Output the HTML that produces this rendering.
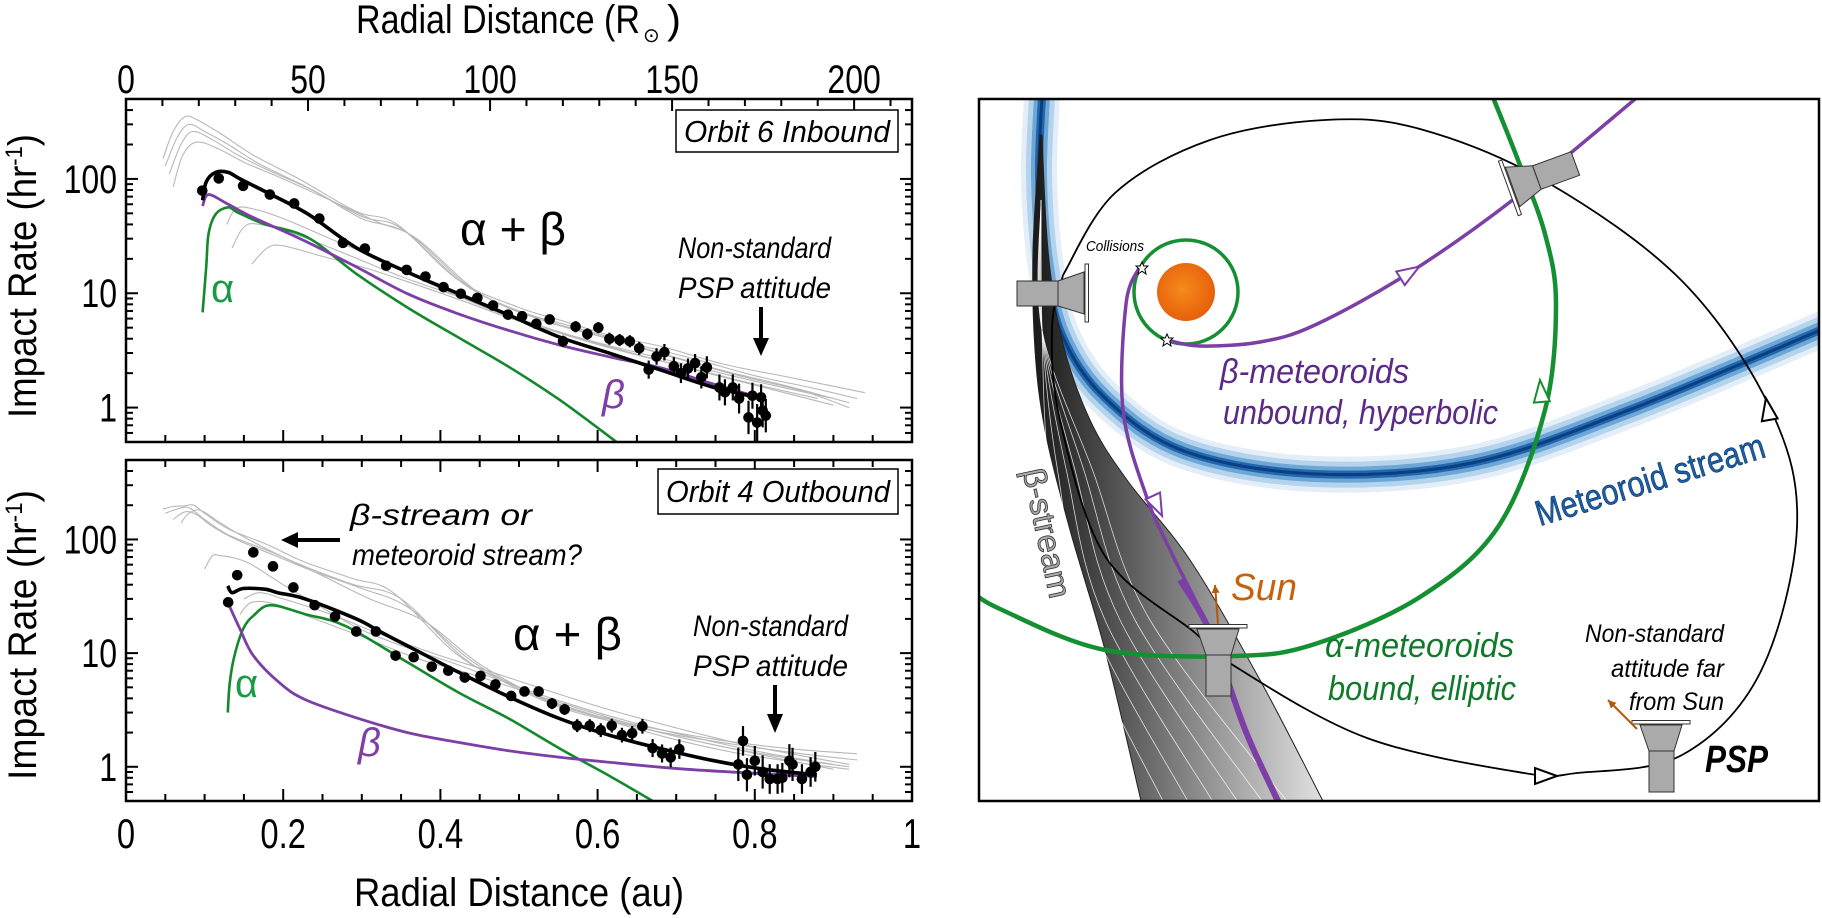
<!DOCTYPE html>
<html><head><meta charset="utf-8"><style>
html,body{margin:0;padding:0;background:#fff;}
svg{display:block;font-family:"Liberation Sans",sans-serif;}
</style></head><body>
<svg id="fig" width="1822" height="918" viewBox="0 0 1822 918" xmlns="http://www.w3.org/2000/svg">
<defs>
<clipPath id="clipTop"><rect x="126" y="99" width="786" height="343"/></clipPath>
<clipPath id="clipBot"><rect x="126" y="460" width="786" height="341"/></clipPath>
<clipPath id="clipPanel"><rect x="980" y="100" width="838" height="701"/></clipPath>
<linearGradient id="fanGrad" x1="1035" y1="0" x2="1330" y2="0" gradientUnits="userSpaceOnUse">
<stop offset="0" stop-color="#1a1a1a"/><stop offset="0.45" stop-color="#777"/><stop offset="1" stop-color="#e6e6e6"/></linearGradient>
<radialGradient id="sunGrad" cx="0.45" cy="0.45" r="0.6"><stop offset="0" stop-color="#f68a1e"/><stop offset="1" stop-color="#e55d08"/></radialGradient>
</defs>

<g>
<text x="356" y="33" font-size="40" textLength="284" lengthAdjust="spacingAndGlyphs">Radial Distance (R</text>
<text x="643" y="42" font-size="20">⊙</text>
<text x="667" y="33" font-size="40" textLength="14" lengthAdjust="spacingAndGlyphs">)</text>
</g>
<text x="354" y="906" font-size="40" textLength="330" lengthAdjust="spacingAndGlyphs">Radial Distance (au)</text>
<text transform="translate(36,418) rotate(-90)" font-size="40" textLength="284" lengthAdjust="spacingAndGlyphs">Impact Rate (hr<tspan font-size="24" dy="-14">-1</tspan><tspan dy="14">)</tspan></text>
<text transform="translate(36,780) rotate(-90)" font-size="40" textLength="290" lengthAdjust="spacingAndGlyphs">Impact Rate (hr<tspan font-size="24" dy="-14">-1</tspan><tspan dy="14">)</tspan></text>

<g id="axesG"></g>
<g id="topPlot" clip-path="url(#clipTop)"></g>
<g id="botPlot" clip-path="url(#clipBot)"></g>

<rect x="126" y="99" width="786" height="343" fill="none" stroke="#000" stroke-width="2.5"/>
<rect x="126" y="460" width="786" height="341" fill="none" stroke="#000" stroke-width="2.5"/>

<g>
<rect x="676" y="110" width="222" height="42" fill="#fff" stroke="#000" stroke-width="1.5"/>
<text x="684" y="142" font-size="31" font-style="italic" textLength="206" lengthAdjust="spacingAndGlyphs">Orbit 6 Inbound</text>
</g>
<text x="460" y="245" font-size="46" textLength="106" lengthAdjust="spacingAndGlyphs">α + β</text>
<text x="211" y="302" font-size="40" fill="#1a9a44">α</text>
<text x="602" y="408" font-size="40" fill="#7f3fa8" font-style="italic">β</text>
<g>
<text x="678" y="258" font-size="30" font-style="italic" textLength="153" lengthAdjust="spacingAndGlyphs">Non-standard</text>
<text x="678" y="298" font-size="30" font-style="italic" textLength="153" lengthAdjust="spacingAndGlyphs">PSP attitude</text>
<line x1="761" y1="307" x2="761" y2="340" stroke="#000" stroke-width="4"/>
<polygon points="753,338 769,338 761,356" fill="#000"/>
</g>
<g>
<rect x="658" y="469" width="240" height="45" fill="#fff" stroke="#000" stroke-width="1.5"/>
<text x="666" y="502" font-size="31" font-style="italic" textLength="224" lengthAdjust="spacingAndGlyphs">Orbit 4 Outbound</text>
</g>
<g>
<text x="350" y="525" font-size="30" font-style="italic" textLength="182" lengthAdjust="spacingAndGlyphs">β-stream or</text>
<text x="352" y="565" font-size="30" font-style="italic" textLength="230" lengthAdjust="spacingAndGlyphs">meteoroid stream?</text>
<line x1="340" y1="540" x2="296" y2="540" stroke="#000" stroke-width="4"/>
<polygon points="298,532 298,548 281,540" fill="#000"/>
</g>
<text x="513" y="650" font-size="46" textLength="109" lengthAdjust="spacingAndGlyphs">α + β</text>
<text x="235" y="697" font-size="40" fill="#1a9a44">α</text>
<text x="358" y="756" font-size="40" fill="#7f3fa8" font-style="italic">β</text>
<g>
<text x="693" y="636" font-size="30" font-style="italic" textLength="155" lengthAdjust="spacingAndGlyphs">Non-standard</text>
<text x="693" y="676" font-size="30" font-style="italic" textLength="155" lengthAdjust="spacingAndGlyphs">PSP attitude</text>
<line x1="775" y1="685" x2="775" y2="716" stroke="#000" stroke-width="4"/>
<polygon points="767,714 783,714 775,733" fill="#000"/>
</g>

<g id="panel" clip-path="url(#clipPanel)"></g>
<rect x="979" y="99" width="840" height="702" fill="none" stroke="#000" stroke-width="2.5"/>

<g id="panelText">
<text x="1086" y="251" font-size="15" font-style="italic" textLength="58" lengthAdjust="spacingAndGlyphs">Collisions</text>
<g fill="#5b2a86" font-style="italic" font-size="34">
<text x="1220" y="383" textLength="189" lengthAdjust="spacingAndGlyphs">β-meteoroids</text>
<text x="1223" y="424" textLength="275" lengthAdjust="spacingAndGlyphs">unbound, hyperbolic</text>
</g>
<text transform="translate(1650,480) rotate(-17)" text-anchor="middle" font-size="36" fill="#1b5fa6" stroke="#0a2f5c" stroke-width="0.6" textLength="238" lengthAdjust="spacingAndGlyphs" dy="12">Meteoroid stream</text>
<text transform="translate(1047,533) rotate(78)" text-anchor="middle" font-size="32" fill="#aaa" stroke="#333" stroke-width="0.8" textLength="132" lengthAdjust="spacingAndGlyphs" dy="11">β-stream</text>
<text x="1231" y="600" font-size="38" font-style="italic" fill="#c8610c" textLength="66" lengthAdjust="spacingAndGlyphs">Sun</text>
<g fill="#117a2a" font-style="italic" font-size="34">
<text x="1325" y="657" textLength="189" lengthAdjust="spacingAndGlyphs">α-meteoroids</text>
<text x="1328" y="700" textLength="188" lengthAdjust="spacingAndGlyphs">bound, elliptic</text>
</g>
<g font-style="italic" font-size="25" text-anchor="end">
<text x="1724" y="642" textLength="139" lengthAdjust="spacingAndGlyphs">Non-standard</text>
<text x="1724" y="677" textLength="113" lengthAdjust="spacingAndGlyphs">attitude far</text>
<text x="1724" y="710" textLength="95" lengthAdjust="spacingAndGlyphs">from Sun</text>
</g>
<text x="1705" y="772" font-size="38" font-weight="bold" font-style="italic" textLength="63" lengthAdjust="spacingAndGlyphs">PSP</text>
</g>
</svg>

<script>
// ---------- chart data ----------
const auTicks=[0,0.2,0.4,0.6,0.8,1];
const auTickLabels=["0","0.2","0.4","0.6","0.8","1"];
const rsunTicks=[0,50,100,150,200];
const rsunTickLabels=["0","50","100","150","200"];
const rateTicks=[1,10,100];
const rateTickLabels=["1","10","100"];
const RSUN_PER_AU=215.9;

const topR=[0.097,0.118,0.149,0.183,0.214,0.246,0.276,0.304,0.331,0.357,0.381,0.404,0.426,0.447,0.467,0.486,0.504,0.522,0.539,0.556,0.572,0.587,0.601,0.615,0.628,0.641,0.653,0.665,0.675,0.685,0.697,0.706,0.715,0.724,0.732,0.739,0.755,0.762,0.772,0.78,0.797,0.808,0.792,0.803,0.81,0.814];
const topRate=[79,101,87,73,61,45,27.6,24.6,17.4,16,14,11.3,9.9,9.1,7.8,6.5,6.3,5.4,5.9,3.8,5.1,4.4,5.0,4.0,3.9,3.8,3.3,2.15,2.8,3.05,2.3,2.0,2.2,2.45,1.84,2.25,1.5,1.36,1.5,1.2,1.27,1.23,0.82,0.74,0.94,0.85];
const topErr=[1.04,1.04,1.04,1.04,1.05,1.05,1.06,1.06,1.07,1.07,1.07,1.08,1.08,1.08,1.09,1.1,1.1,1.1,1.1,1.12,1.12,1.12,1.12,1.13,1.13,1.13,1.14,1.2,1.18,1.18,1.2,1.22,1.22,1.2,1.25,1.25,1.3,1.3,1.3,1.35,1.3,1.3,1.4,1.45,1.4,1.4];
const topFitR=[0.0975,0.102,0.114,0.130,0.145,0.183,0.232,0.293,0.358,0.423,0.488,0.553,0.618,0.683,0.748,0.812];
const topFitV=[65,94,114,114,100,74,49,25,15.3,9.9,6.4,4.1,2.95,2.1,1.5,1.19];
const topBetaR=[0.0975,0.105,0.130,0.162,0.226,0.293,0.358,0.423,0.488,0.553,0.618,0.683,0.748,0.812];
const topBetaV=[58,73,60,46,29,17,9.9,6.6,4.7,3.5,2.75,2.2,1.6,1.19];
const topAlphaR=[0.0975,0.102,0.105,0.114,0.130,0.142,0.175,0.232,0.293,0.358,0.423,0.488,0.553,0.624];
const topAlphaV=[6.8,16.9,33,49,56.5,51,40.5,30.5,14.8,7.5,4.1,2.25,1.15,0.5];
const topGray=[
 [[0.047,150],[0.06,260],[0.075,350],[0.09,330],[0.12,250],[0.163,160],[0.22,100],[0.293,52],[0.345,40],[0.423,13],[0.5,7.5],[0.553,5.8],[0.62,4.2],[0.683,3.4],[0.76,2.4],[0.851,1.8],[0.94,1.35]],
 [[0.05,130],[0.065,230],[0.08,300],[0.1,260],[0.13,200],[0.17,135],[0.23,85],[0.3,47],[0.35,37],[0.43,12],[0.5,7],[0.56,5.3],[0.64,3.7],[0.72,2.7],[0.8,1.9],[0.87,1.5],[0.93,1.2]],
 [[0.055,110],[0.07,200],[0.085,260],[0.11,220],[0.14,165],[0.18,120],[0.24,78],[0.3,45],[0.36,33],[0.44,11],[0.52,6.2],[0.6,4.3],[0.68,3.0],[0.76,2.1],[0.84,1.55],[0.92,1.1]],
 [[0.06,85],[0.072,160],[0.09,210],[0.12,180],[0.15,140],[0.2,100],[0.26,65],[0.32,42],[0.37,30],[0.45,10],[0.53,5.8],[0.62,3.9],[0.7,2.7],[0.78,1.9],[0.86,1.4],[0.92,1.0]],
 [[0.128,40],[0.14,55],[0.16,55],[0.2,45],[0.26,30],[0.32,20],[0.4,11],[0.48,6.5],[0.56,4.3],[0.64,3.0],[0.72,2.2],[0.8,1.6],[0.88,1.2]],
 [[0.135,25],[0.15,38],[0.17,40],[0.22,32],[0.28,22],[0.35,14],[0.42,9.5],[0.5,6],[0.58,4],[0.66,2.8],[0.74,2.0],[0.82,1.45],[0.9,1.05]],
 [[0.16,18],[0.18,25],[0.2,26],[0.25,21],[0.3,17],[0.36,12.5],[0.43,8.5],[0.5,5.7],[0.6,3.7],[0.7,2.5],[0.8,1.7],[0.9,1.2]]
];

const botR=[0.130,0.1415,0.162,0.187,0.213,0.240,0.266,0.293,0.318,0.343,0.366,0.389,0.410,0.431,0.451,0.470,0.490,0.507,0.525,0.542,0.558,0.574,0.590,0.604,0.618,0.631,0.644,0.657,0.670,0.682,0.693,0.704,0.779,0.785,0.79,0.80,0.81,0.819,0.829,0.835,0.844,0.848,0.86,0.871,0.877];
const botRate=[28,48.5,77,58,37.8,26.4,21,15.5,15.5,9.5,9.2,7.6,7.0,6.1,6.3,5.3,4.2,4.6,4.6,3.6,3.2,2.3,2.3,2.1,2.3,1.9,1.97,2.27,1.46,1.31,1.21,1.43,1.05,1.69,0.85,1.13,0.9,0.78,0.78,0.8,1.13,1.05,0.78,0.9,1.0];
const botErr=[1.04,1.04,1.04,1.04,1.05,1.05,1.05,1.06,1.06,1.07,1.07,1.08,1.08,1.08,1.09,1.1,1.1,1.1,1.1,1.12,1.12,1.14,1.14,1.15,1.15,1.16,1.16,1.16,1.2,1.2,1.22,1.22,1.4,1.35,1.4,1.35,1.4,1.35,1.35,1.35,1.4,1.4,1.35,1.35,1.35];
const botFitR=[0.1295,0.135,0.149,0.177,0.193,0.228,0.293,0.325,0.358,0.423,0.488,0.553,0.618,0.683,0.748,0.812,0.879];
const botFitV=[39,34,37,36.5,34,30,20,15.2,11.6,6.8,4.1,2.63,1.87,1.43,1.13,0.953,0.85];
const botBetaR=[0.1295,0.145,0.162,0.195,0.228,0.293,0.358,0.423,0.488,0.553,0.618,0.714,0.879];
const botBetaV=[28,16.3,9.5,5.5,3.9,2.7,2.0,1.64,1.38,1.21,1.09,0.95,0.82];
const botAlphaR=[0.1295,0.132,0.138,0.149,0.162,0.184,0.228,0.28,0.358,0.423,0.488,0.553,0.618,0.67];
const botAlphaV=[3.0,5.5,9.5,16.3,21.3,26.4,22,17.2,8.3,4.5,2.63,1.43,0.81,0.5];
const botGray=[
 [[0.047,185],[0.06,195],[0.073,197],[0.086,200],[0.1,170],[0.131,123],[0.18,90],[0.228,63],[0.29,45],[0.34,34],[0.423,9.5],[0.5,5],[0.553,3.4],[0.62,2.6],[0.683,2.1],[0.76,1.7],[0.85,1.43],[0.93,1.3]],
 [[0.05,170],[0.065,185],[0.08,190],[0.1,150],[0.13,110],[0.18,80],[0.23,57],[0.29,40],[0.35,30],[0.43,9],[0.5,4.8],[0.56,3.2],[0.63,2.4],[0.7,1.9],[0.78,1.55],[0.86,1.3],[0.93,1.15]],
 [[0.06,150],[0.075,175],[0.09,165],[0.11,130],[0.14,100],[0.19,72],[0.24,52],[0.3,37],[0.36,25],[0.44,8.5],[0.52,4.3],[0.6,2.8],[0.68,2.0],[0.76,1.5],[0.84,1.2],[0.92,1.0]],
 [[0.07,140],[0.08,170],[0.095,180],[0.12,140],[0.15,105],[0.2,70],[0.25,48],[0.31,30],[0.38,19],[0.45,8],[0.53,4.0],[0.61,2.6],[0.69,1.8],[0.77,1.35],[0.85,1.1],[0.92,0.95]],
 [[0.1,55],[0.11,72],[0.12,72],[0.14,68],[0.16,60],[0.2,40],[0.25,25],[0.3,16],[0.36,11],[0.42,8],[0.5,5],[0.58,3.3],[0.66,2.3],[0.74,1.7],[0.82,1.3],[0.9,1.05]],
 [[0.145,22],[0.16,28],[0.19,27],[0.24,20],[0.3,14],[0.37,9],[0.44,6.5],[0.52,4.3],[0.6,2.9],[0.68,2.0],[0.76,1.5],[0.84,1.15],[0.9,0.95]],
 [[0.15,30],[0.17,34],[0.2,30],[0.26,22],[0.32,15],[0.39,10],[0.46,7],[0.54,4.6],[0.62,3.1],[0.7,2.2],[0.78,1.6],[0.86,1.25],[0.92,1.05]]
];

// ---------- scales ----------
const NS="http://www.w3.org/2000/svg";
const X0=126, XW=786;
const PT={t:99,b:442}, PB={t:460,b:801};
const LMIN=Math.log10(0.5), LSPAN=3;
function xs(r){return X0+r*XW;}
function ys(v,P){return P.b-(Math.log10(v)-LMIN)/LSPAN*(P.b-P.t);}
function mk(tag,attrs,parent){const e=document.createElementNS(NS,tag);for(const k in attrs)e.setAttribute(k,attrs[k]);parent.appendChild(e);return e;}
function smooth(p){
  if(p.length<2)return "";
  let d="M"+p[0][0].toFixed(1)+","+p[0][1].toFixed(1);
  for(let i=0;i<p.length-1;i++){
    const a=p[i-1]||p[i],b=p[i],c=p[i+1],e=p[i+2]||c;
    const c1=[b[0]+(c[0]-a[0])/6,b[1]+(c[1]-a[1])/6];
    const c2=[c[0]-(e[0]-b[0])/6,c[1]-(e[1]-b[1])/6];
    d+=" C"+c1[0].toFixed(1)+","+c1[1].toFixed(1)+" "+c2[0].toFixed(1)+","+c2[1].toFixed(1)+" "+c[0].toFixed(1)+","+c[1].toFixed(1);
  }
  return d;
}
function curvePts(R,V,P){return R.map((r,i)=>[xs(r),ys(V[i],P)]);}

// ---------- axes ----------
const axesG=document.getElementById('axesG');
function drawAxes(P,name,isTop,isBottom){
  for(let k=1;k<20;k++){
    const r=k*0.05, x=xs(r);
    const major=(k%4===0);
    const len=major?12:7;
    const tb=mk('line',{x1:x,y1:P.b,x2:x,y2:P.b-len,stroke:'#000','stroke-width':2},axesG);
    
    
    if(!isTop){
      const tt=mk('line',{x1:x,y1:P.t,x2:x,y2:P.t+len,stroke:'#000','stroke-width':2},axesG);
      
      
    }
  }
  for(let dec=-1;dec<=2;dec++){
    for(let m=1;m<10;m++){
      const v=m*Math.pow(10,dec);
      if(v<0.5||v>500)continue;
      const y=ys(v,P), len=(m===1)?12:7;
      const tl=mk('line',{x1:X0,y1:y,x2:X0+len,y2:y,stroke:'#000','stroke-width':2},axesG);
      
      
      const tr=mk('line',{x1:X0+XW,y1:y,x2:X0+XW-len,y2:y,stroke:'#000','stroke-width':2},axesG);
      
      
    }
  }
  rateTicks.forEach((v,i)=>{
    const t=mk('text',{transform:'translate(117,'+(ys(v,P)+14).toFixed(1)+') scale(0.8,1)','text-anchor':'end','font-size':40},axesG);
    t.textContent=rateTickLabels[i];
    
    
  });
  if(isBottom){
    auTicks.forEach((r,i)=>{
      const t=mk('text',{transform:'translate('+xs(r).toFixed(1)+',848) scale(0.78,1)','text-anchor':'middle','font-size':42},axesG);
      t.textContent=auTickLabels[i];
      
      
    });
  }
  if(isTop){
    for(let R=10;R<=210;R+=10){
      const x=xs(R/RSUN_PER_AU), len=(R%50===0)?12:7;
      const t=mk('line',{x1:x,y1:P.t,x2:x,y2:P.t+len,stroke:'#000','stroke-width':2},axesG);
      
      
    }
    rsunTicks.forEach((R,i)=>{
      const t=mk('text',{transform:'translate('+xs(R/RSUN_PER_AU).toFixed(1)+',93) scale(0.8,1)','text-anchor':'middle','font-size':40},axesG);
      t.textContent=rsunTickLabels[i];
      
      
    });
  }
}
drawAxes(PT,'top-plot',true,false);
drawAxes(PB,'bottom-plot',false,true);

// ---------- plot content ----------
function drawPlot(gid,P,gray,R,V,E,fitR,fitV,aR,aV,bR,bV,name){
  const g=document.getElementById(gid);
  gray.forEach(pts=>{
    const p=mk('path',{d:smooth(pts.map(q=>[xs(q[0]),ys(q[1],P)])),fill:'none',stroke:'#b8b8b8','stroke-width':1.1},g);
    
    
  });
  const ga=mk('path',{d:smooth(curvePts(aR,aV,P)),fill:'none',stroke:'#14892c','stroke-width':2.6},g);
  
  
  const gb=mk('path',{d:smooth(curvePts(bR,bV,P)),fill:'none',stroke:'#7b3fa6','stroke-width':2.8},g);
  
  
  const gf=mk('path',{d:smooth(curvePts(fitR,fitV,P)),fill:'none',stroke:'#000','stroke-width':3.6},g);
  
  
  R.forEach((r,i)=>{
    const x=xs(r), y=ys(V[i],P);
    const eb=mk('line',{x1:x,y1:ys(V[i]*E[i],P),x2:x,y2:ys(V[i]/E[i],P),stroke:'#000','stroke-width':2.2},g);
    
    
    const c=mk('circle',{cx:x,cy:y,r:5.3,fill:'#000'},g);
    
    
  });
}
drawPlot('topPlot',PT,topGray,topR,topRate,topErr,topFitR,topFitV,topAlphaR,topAlphaV,topBetaR,topBetaV,'orbit6');
drawPlot('botPlot',PB,botGray,botR,botRate,botErr,botFitR,botFitV,botAlphaR,botAlphaV,botBetaR,botBetaV,'orbit4');

// ---------- right diagram ----------
const panel=document.getElementById('panel');
const streamPts=[[1042,96],[1039,176],[1045,260],[1062,335],[1105,398],[1184,451],[1315,474],[1472,463],[1629,410],[1830,326]];
[[36,'#e3eef9'],[26,'#b4d3ec'],[16,'#6ea7d6'],[8,'#2266ad'],[3,'#0a3f80']].forEach(s=>{
  const p=mk('path',{d:smooth(streamPts),fill:'none',stroke:s[1],'stroke-width':s[0]},panel);
  
  
});
const fanLeft=[[1040,135],[1033,250],[1035,350],[1045,430],[1070,530],[1105,650],[1142,805]];
const fanRight=[[1325,805],[1260,680],[1190,560],[1127,480],[1090,420],[1062,340],[1048,250],[1042,135]];
const fanD=smooth(fanLeft)+" L"+smooth(fanRight).slice(1)+" Z";
const fan=mk('path',{d:fanD,fill:'url(#fanGrad)',stroke:'#222','stroke-width':1},panel);


[1165,1190,1215,1240,1265,1290].forEach(xb=>{
  const l=mk('path',{d:smooth([[1041,200],[1042,330],[1040+(xb-1140)*0.35,470],[1060+(xb-1140)*0.6,620],[xb,805]]),fill:'none',stroke:'#fff','stroke-width':0.8,opacity:0.8},panel);
  
  
});
const orbitPts=[[1063,275],[1052,328],[1060,420],[1105,556],[1194,632],[1236,667],[1367,738],[1524,773],[1577,773],[1682,755],[1760,673],[1797,527],[1771,410],[1682,281],[1545,181],[1420,129],[1325,120],[1210,140],[1115,193],[1063,275]];
const orb=mk('path',{d:smooth(orbitPts),fill:'none',stroke:'#000','stroke-width':1.8},panel);


const greenPts=[[1490,90],[1518,160],[1545,234],[1556,304],[1545,410],[1498,527],[1420,597],[1315,644],[1236,656],[1105,650],[1000,609],[970,590]];
const gr=mk('path',{d:smooth(greenPts),fill:'none',stroke:'#149033','stroke-width':4.5},panel);


const gc=mk('circle',{cx:1186,cy:292,r:52,fill:'none',stroke:'#149033','stroke-width':3.5},panel);


const purple1=[[1167,340],[1200,346],[1260,342],[1315,325],[1409,273],[1514,199],[1640,95]];
const pp1=mk('path',{d:smooth(purple1),fill:'none',stroke:'#7b3fa6','stroke-width':3.5},panel);


const purple2=[[1139,268],[1126,304],[1123,410],[1147,498],[1173,556],[1210,632],[1246,732],[1278,805]];
const pp2=mk('path',{d:smooth(purple2),fill:'none',stroke:'#7b3fa6','stroke-width':3.5},panel);


const pp3=mk('path',{d:smooth([[1180,580],[1210,632],[1246,732],[1280,805]]),fill:'none',stroke:'#7b3fa6','stroke-width':6},panel);


function tri(x,y,ang,col,name){
  const t=mk('polygon',{points:'12,0 -10,-8 -10,8',transform:'translate('+x+','+y+') rotate('+ang+')',fill:'#fff',stroke:col,'stroke-width':2},panel);
  
  
}
tri(1409,273,-32,'#7b3fa6','beta-direction-arrow');
tri(1157,505,65,'#7b3fa6','beta-stream-direction-arrow');
tri(1541,392,-95,'#149033','alpha-direction-arrow');
tri(1768,410,-100,'#000','psp-direction-arrow');
tri(1545,776,0,'#000','psp-direction-arrow-bottom');
const sun=mk('circle',{cx:1186,cy:292,r:29,fill:'url(#sunGrad)'},panel);


[[1142,268],[1167,340]].forEach(p=>{
  const s=mk('polygon',{points:'0,-6 1.8,-2 6,-2 2.8,1.2 4,6 0,3.2 -4,6 -2.8,1.2 -6,-2 -1.8,-2',transform:'translate('+p[0]+','+p[1]+')',fill:'#fff',stroke:'#000','stroke-width':1},panel);
  
  
});
function craft(tr,name){
  const g=mk('g',{transform:tr},panel);
  
  
  mk('rect',{x:-41,y:-12,width:41,height:25,fill:'#aaa',stroke:'#333','stroke-width':1},g);
  mk('polygon',{points:'0,-12 26,-21 26,21 0,13',fill:'#aaa',stroke:'#333','stroke-width':1},g);
  mk('rect',{x:27,y:-29,width:3.5,height:58,fill:'#fff',stroke:'#333','stroke-width':1},g);
}
craft('translate(1058,293)','psp-spacecraft-left');
craft('translate(1537,178) rotate(160)','psp-spacecraft-top');
craft('translate(1218,655) rotate(-90)','psp-spacecraft-middle');
craft('translate(1661,751) rotate(-90)','psp-spacecraft-far');
function oarrow(x1,y1,x2,y2,name){
  const l=mk('line',{x1:x1,y1:y1,x2:x2,y2:y2,stroke:'#b4580c','stroke-width':2},panel);
  
  
  const a=Math.atan2(y2-y1,x2-x1)*180/Math.PI;
  const h=mk('polygon',{points:'0,0 -8,-4 -8,4',transform:'translate('+x2+','+y2+') rotate('+a+')',fill:'#b4580c'},panel);
  
  
}
oarrow(1218,624,1215,585,'sun-direction-arrow');
oarrow(1637,729,1608,700,'sun-direction-arrow-far');
</script>
</body></html>
